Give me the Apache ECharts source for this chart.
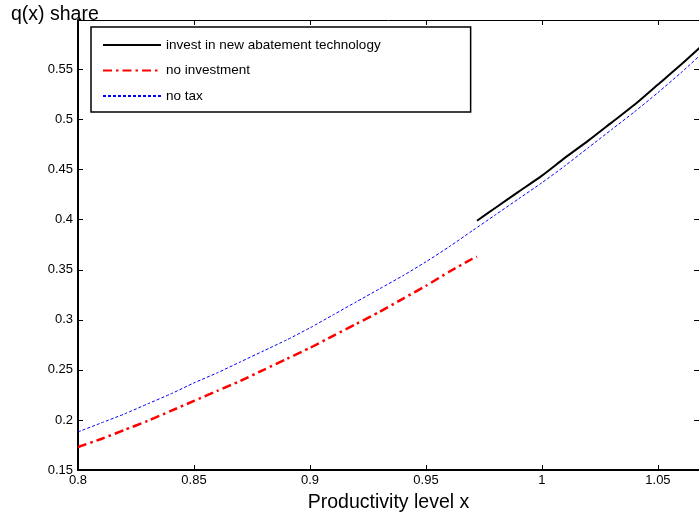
<!DOCTYPE html>
<html>
<head>
<meta charset="utf-8">
<script src="https://cdn.jsdelivr.net/npm/echarts@6/dist/echarts.min.js"></script>
<style>
  html, body { margin: 0; padding: 0; background: #fff; }
  #chart { width: 699px; height: 518px; }
</style>
</head>
<body>
<div id="chart"></div>
<script>
// productivity levels and q(x) share for each policy case
var noTaxX = [0.80, 0.81, 0.82, 0.83, 0.84, 0.85, 0.86, 0.87, 0.88, 0.89, 0.90, 0.91, 0.92, 0.93, 0.94,
  0.95, 0.96, 0.97, 0.98, 0.99, 1.00, 1.01, 1.02, 1.03, 1.04, 1.05, 1.06, 1.07]
var noTaxY = [0.188, 0.197, 0.206, 0.216, 0.226, 0.237, 0.247, 0.258, 0.269, 0.280, 0.292, 0.305, 0.318, 0.331, 0.344,
  0.358, 0.373, 0.389, 0.405, 0.421, 0.437, 0.454, 0.472, 0.490, 0.508, 0.527, 0.547, 0.568]

var noInvestX = [0.80, 0.81, 0.82, 0.83, 0.84, 0.85, 0.86, 0.87, 0.88, 0.89, 0.90, 0.91, 0.92, 0.93, 0.94,
  0.95, 0.96, 0.97, 0.972]
var noInvestY = [0.173, 0.181, 0.190, 0.199, 0.209, 0.219, 0.229, 0.239, 0.250, 0.261, 0.272, 0.284, 0.296, 0.308, 0.321,
  0.334, 0.348, 0.361, 0.363]

var investX = [0.972, 0.98, 0.99, 1.00, 1.01, 1.02, 1.03, 1.04, 1.05, 1.06, 1.07]
var investY = [0.399, 0.412, 0.428, 0.444, 0.462, 0.479, 0.497, 0.515, 0.535, 0.555, 0.576]

var xTicks = [0.8, 0.85, 0.9, 0.95, 1, 1.05]
var yTicks = [0.15, 0.2, 0.25, 0.3, 0.35, 0.4, 0.45, 0.5, 0.55]

function pairs(xs, ys) {
  return xs.map(function (x, i) { return [x, ys[i]] })
}

var font = 'Liberation Sans, Arial, Helvetica, sans-serif'

var myChart = echarts.init(document.getElementById('chart'))

var axisBase = {
  type: 'value',
  splitLine: { show: false },
  axisTick: { inside: true, length: 5, lineStyle: { color: '#000', width: 1 } }
}

var option = {
  backgroundColor: '#fff',
  animation: false,
  title: {
    text: 'q(x) share',
    left: 6,
    top: 0,
    textStyle: { fontFamily: font, fontSize: 19.5, fontWeight: 'normal', color: '#000' }
  },
  legend: {
    orient: 'vertical',
    left: 91,
    top: 27,
    padding: [11, 90, 9, 11],
    itemGap: 11.5,
    itemWidth: 58,
    itemHeight: 14,
    borderColor: '#000',
    borderWidth: 1.5,
    itemStyle: { opacity: 0 },
    textStyle: { fontFamily: font, fontSize: 13.5, color: '#000' },
    data: ['invest in new abatement technology', 'no investment', 'no tax']
  },
  grid: { left: 78, top: 20, bottom: 45, right: 0 },
  xAxis: [
    Object.assign({}, axisBase, {
      min: 0.8, max: 1.0677, interval: 0.05,
      name: 'Productivity level x',
      nameLocation: 'middle',
      nameGap: 23,
      nameTextStyle: { fontFamily: font, fontSize: 19.5, color: '#000' },
      axisLine: { lineStyle: { color: '#000', width: 2 } },
      axisLabel: {
        fontFamily: font, fontSize: 13, color: '#000', margin: 4,
        showMaxLabel: false,
        formatter: function (v) {
          var r = Math.round(v * 100) / 100
          return xTicks.indexOf(r) >= 0 ? String(r) : ''
        }
      }
    }),
    Object.assign({}, axisBase, {
      position: 'top',
      min: 0.8, max: 1.0677, interval: 0.05,
      axisLine: { lineStyle: { color: '#000', width: 1 } },
      axisLabel: { show: false }
    })
  ],
  yAxis: [
    Object.assign({}, axisBase, {
      min: 0.15, max: 0.5995, interval: 0.05,
      axisLine: { lineStyle: { color: '#000', width: 2 } },
      axisLabel: {
        fontFamily: font, fontSize: 13, color: '#000', margin: 5,
        showMaxLabel: false,
        formatter: function (v) {
          var r = Math.round(v * 100) / 100
          return yTicks.indexOf(r) >= 0 ? String(r) : ''
        }
      }
    }),
    Object.assign({}, axisBase, {
      position: 'right',
      min: 0.15, max: 0.5995, interval: 0.05,
      axisLine: { lineStyle: { color: '#000', width: 1 } },
      axisLabel: { show: false }
    })
  ],
  series: [{
    name: 'invest in new abatement technology',
    type: 'line',
    symbol: 'none',
    smooth: 0.2,
    color: '#000',
    lineStyle: { color: '#000', width: 2 },
    data: pairs(investX, investY)
  }, {
    name: 'no investment',
    type: 'line',
    symbol: 'none',
    smooth: 0.2,
    color: '#ff0000',
    lineStyle: { color: '#ff0000', width: 2.5, type: [9, 4, 2.5, 4] },
    data: pairs(noInvestX, noInvestY)
  }, {
    name: 'no tax',
    type: 'line',
    symbol: 'none',
    smooth: 0.2,
    color: '#0000ff',
    lineStyle: { color: '#0000ff', width: 1, type: [3, 2] },
    data: pairs(noTaxX, noTaxY)
  }]
}

myChart.setOption(option)
</script>
</body>
</html>
